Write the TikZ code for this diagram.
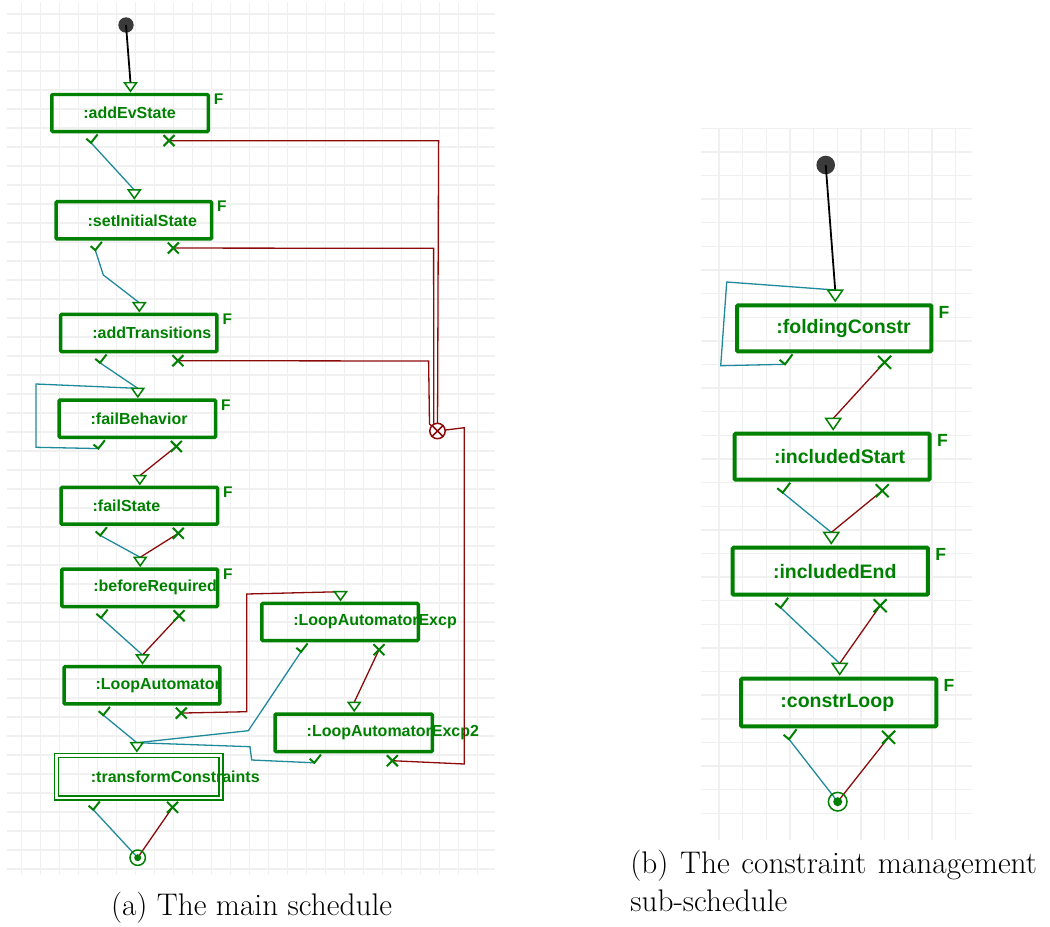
\documentclass[tikz,border=0pt]{standalone}
\usepackage{fontspec}
\newfontfamily\lsans{Liberation Sans}
\usetikzlibrary{calc}
\definecolor{bgreen}{RGB}{0,128,0}
\definecolor{tealc}{RGB}{30,138,155}
\definecolor{dred}{RGB}{140,10,10}
\definecolor{dotc}{RGB}{58,58,58}
\definecolor{gridc}{RGB}{240,240,240}
\newcommand\portsL[1]{\coordinate (#1-ok) at ($(#1.south west)+(41,9.5)$);\coordinate (#1-ko) at ($(#1.south west)+(119,7.4)$);\coordinate (#1-in) at ($(#1.north)+(0.5,-10)$);}
\newcommand\portsR[1]{\coordinate (#1-ok) at ($(#1.south west)+(50,11)$);\coordinate (#1-ko) at ($(#1.south west)+(149.5,9)$);\coordinate (#1-in) at ($(#1.north)+(1,-13.3)$);}
\newcommand\mytriL[1]{\draw[tri] ($(#1)+(-6,0)$) -- ($(#1)+(6,0)$) -- ($(#1)+(0,8.5)$) -- cycle;}
\newcommand\mytriR[1]{\draw[tri] ($(#1)+(-7.5,0)$) -- ($(#1)+(7.5,0)$) -- ($(#1)+(0,11)$) -- cycle;}
\newcommand\mychkL[1]{\draw[mk] ($(#1)+(-4.7,-4)$) -- (#1) -- ($(#1)+(6.6,-8.3)$);}
\newcommand\mychkR[1]{\draw[mk] ($(#1)+(-5.5,-4.5)$) -- (#1) -- ($(#1)+(7.5,-10)$);}
\newcommand\mycrsL[1]{\draw[mk] ($(#1)+(-5.5,-5.5)$) -- ($(#1)+(5.5,5.5)$) ($(#1)+(-5.5,5.5)$) -- ($(#1)+(5.5,-5.5)$);}
\newcommand\mycrsR[1]{\draw[mk] ($(#1)+(-6.5,-6.5)$) -- ($(#1)+(6.5,6.5)$) ($(#1)+(-6.5,6.5)$) -- ($(#1)+(6.5,-6.5)$);}
\begin{document}
\begin{tikzpicture}[x=0.02cm,y=-0.02cm,
 gridline/.style={gridc,line width=0.028cm},
 boxL/.style={draw=bgreen,line width=0.07cm,rounded corners=0.6pt,inner sep=0},
 boxR/.style={draw=bgreen,line width=0.08cm,rounded corners=0.6pt,inner sep=0},
 wh/.style 2 args={minimum width=#1*0.02cm,minimum height=#2*0.02cm},
 lblL/.style={anchor=west,inner sep=0,text=bgreen,font=\lsans\bfseries\fontsize{9.1}{11}\selectfont},
 lblR/.style={anchor=west,inner sep=0,text=bgreen,font=\lsans\bfseries\fontsize{11.1}{13}\selectfont},
 fL/.style={anchor=north west,inner sep=0,text=bgreen,font=\lsans\bfseries\fontsize{8.8}{10}\selectfont},
 fR/.style={anchor=north west,inner sep=0,text=bgreen,font=\lsans\bfseries\fontsize{10}{12}\selectfont},
 okline/.style={tealc,line width=0.026cm},
 koline/.style={dred,line width=0.026cm},
 startline/.style={black,line width=0.036cm},
 mk/.style={bgreen,line width=0.04cm},
 tri/.style={bgreen,line width=0.03cm,fill=white,line join=miter},
 captxt/.style={inner sep=0,font=\fontsize{17.8}{21}\selectfont}
]
\useasboundingbox (0,0) rectangle (1050,926);
% grids
\foreach \i in {0,...,24} \draw[gridline] ({21.7+19*\i},2) -- ({21.7+19*\i},875);
\foreach \i in {0,...,45} \draw[gridline] (7,{14+19*\i}) -- (495,{14+19*\i});
\foreach \i in {0,...,10} \draw[gridline] ({719+23.67*\i},128) -- ({719+23.67*\i},840);
\foreach \i in {0,...,29} \draw[gridline] (701,{128.3+23.62*\i}) -- (972,{128.3+23.62*\i});

% left boxes
\node[boxL,wh={156.5}{37}] (b1) at (130,113) {};
\node[boxL,wh={155.5}{37.2}] (b2) at (133.8,220.3) {};
\node[boxL,wh={156.2}{37.1}] (b3) at (138.8,333) {};
\node[boxL,wh={156.5}{37.2}] (b4) at (137.3,418.7) {};
\node[boxL,wh={156.5}{36.8}] (b5) at (139.3,505.8) {};
\node[boxL,wh={155.8}{37.5}] (b6) at (139.7,587.8) {};
\node[boxL,wh={155.9}{37.2}] (b7) at (142,685.3) {};
\node[boxL,wh={156.5}{37.1}] (b8) at (340,622) {};
\node[boxL,wh={157.2}{37.5}] (b9) at (353.7,732.8) {};
\node[draw=bgreen,double,double distance=0.046cm,line width=0.034cm,inner sep=0,wh={164.9}{42.3}] (b10) at (138.85,776.7) {};
% right boxes
\node[boxR,wh={194.3}{46}] (b11) at (834.2,328.3) {};
\node[boxR,wh={195}{46}] (b12) at (832.2,456.7) {};
\node[boxR,wh={195.3}{47}] (b13) at (830.3,571.2) {};
\node[boxR,wh={195.3}{47.6}] (b14) at (838.7,702.5) {};

% labels
\node[lblL] (t1) at ($(b1.west)+(33,0)$) {:addEvState};
\node[lblL] (t2) at ($(b2.west)+(33,0)$) {:setInitialState};
\node[lblL] (t3) at ($(b3.west)+(33,0)$) {:addTransitions};
\node[lblL] (t4) at ($(b4.west)+(33,0)$) {:failBehavior};
\node[lblL] (t5) at ($(b5.west)+(33,0)$) {:failState};
\node[lblL] (t6) at ($(b6.west)+(33,0)$) {:beforeRequired};
\node[lblL] (t7) at ($(b7.west)+(33,0)$) {:LoopAutomator};
\node[lblL] (t8) at ($(b8.west)+(33,0)$) {:LoopAutomatorExcp};
\node[lblL] (t9) at ($(b9.west)+(33,0)$) {:LoopAutomatorExcp2};
\node[lblL] (t10) at ($(b10.west)+(35,0)$) {:transformConstraints};
\node[lblR] (t11) at ($(b11.west)+(41,0)$) {:foldingConstr};
\node[lblR] (t12) at ($(b12.west)+(41,0)$) {:includedStart};
\node[lblR] (t13) at ($(b13.west)+(42,0)$) {:includedEnd};
\node[lblR] (t14) at ($(b14.west)+(41,0)$) {:constrLoop};

% F flags
\foreach \b in {b1,b2,b3,b4,b5,b6} \node[fL] (f\b) at ($(\b.north east)+(3.5,0.8)$) {F};
\foreach \b in {b11,b12,b13,b14} \node[fR] (f\b) at ($(\b.north east)+(5,2.5)$) {F};

% ports
\portsL{b1}\portsL{b2}\portsL{b3}\portsL{b4}\portsL{b5}\portsL{b6}\portsL{b7}\portsL{b8}\portsL{b9}
\coordinate (b10-ok) at ($(b10.south west)+(37.7,11)$);
\coordinate (b10-ko) at ($(b10.south west)+(117,8.6)$);
\coordinate (b10-in) at ($(b10.north)+(-2,-12)$);
\portsR{b11}\portsR{b12}\portsR{b13}\portsR{b14}

\coordinate (errc) at (437.5,431);
\coordinate (end1) at (137.7,857.7);
\coordinate (end2) at (837.7,801.7);
\node[circle,fill=dotc,minimum size=0.308cm,inner sep=0] (s1) at (126,25) {};
\node[circle,fill=dotc,minimum size=0.372cm,inner sep=0] (s2) at (825.7,165) {};

% connectors left
\draw[startline] (s1.center) -- (b1-in);
\draw[okline] (b1-ok) -- (b2-in);
\draw[okline] (b2-ok) -- (103.3,275) -- (b3-in);
\draw[okline] (b3-ok) -- (b4-in);
\draw[okline] (b4-ok) -- (36,447.3) -- (36,384) -- (b4-in);
\draw[koline] (b4-ko) -- (b5-in);
\draw[okline] (b5-ok) -- (b6-in);
\draw[koline] (b5-ko) -- (b6-in);
\draw[okline] (b6-ok) -- (b7-in);
\draw[koline] (b6-ko) -- (b7-in);
\draw[okline] (b7-ok) -- (b10-in);
\draw[koline] (b7-ko) -- (246.7,711.7) -- (246.7,594) -- (b8-in);
\draw[okline] (b8-ok) -- (248.3,730.7) -- (b10-in);
\draw[koline] (b8-ko) -- (b9-in);
\draw[okline] (b9-ok) -- (251.7,760) -- (250,746.7) -- (b10-in);
\draw[okline] (b10-ok) -- (end1);
\draw[koline] (b10-ko) -- (end1);
\draw[koline] (b1-ko) -- (438.6,140.7) -- (errc);
\draw[koline] (b2-ko) -- (433.6,248.3) -- (433.8,426) -- (errc);
\draw[koline] (b3-ko) -- (428.6,361) -- (429.5,424) -- (errc);
\draw[koline] (errc) -- (464.3,427.7) -- (464.3,764) -- (b9-ko);
% connectors right
\draw[startline] (s2.center) -- (b11-in);
\draw[okline] (b11-ok) -- (720.7,365.7) -- (726.7,282) -- (b11-in);
\draw[koline] (b11-ko) -- (b12-in);
\draw[okline] (b12-ok) -- (b13-in);
\draw[koline] (b12-ko) -- (b13-in);
\draw[okline] (b13-ok) -- (b14-in);
\draw[koline] (b13-ko) -- (b14-in);
\draw[okline] (b14-ok) -- (end2);
\draw[koline] (b14-ko) -- (end2);

% markers
\foreach \b in {b1,b2,b3,b4,b5,b6,b7,b8,b9,b10} {\mytriL{\b-in}\mychkL{\b-ok}\mycrsL{\b-ko}}
\foreach \b in {b11,b12,b13,b14} {\mytriR{\b-in}\mychkR{\b-ok}\mycrsR{\b-ko}}

% error collector
\node[circle,draw=dred,fill=white,line width=0.03cm,minimum size=0.308cm,inner sep=0] (err) at (errc) {};
\draw[dred,line width=0.03cm] (err.north west) -- (err.south east) (err.north east) -- (err.south west);

% end states
\draw[bgreen,line width=0.03cm] (end1) circle[radius=0.154cm];
\fill[bgreen] (end1) circle[radius=0.07cm];
\draw[bgreen,line width=0.03cm] (end2) circle[radius=0.186cm];
\fill[bgreen] (end2) circle[radius=0.09cm];

% captions
\node[captxt,anchor=base] (capa) at (251.5,915.5) {(a) The main schedule};
\node[captxt,anchor=base west] (capb1) at (630,873) {\makebox[8.134cm][s]{(b) The constraint management}};
\node[captxt,anchor=base west] (capb2) at (630,911.7) {sub-schedule};
\end{tikzpicture}
\end{document}
